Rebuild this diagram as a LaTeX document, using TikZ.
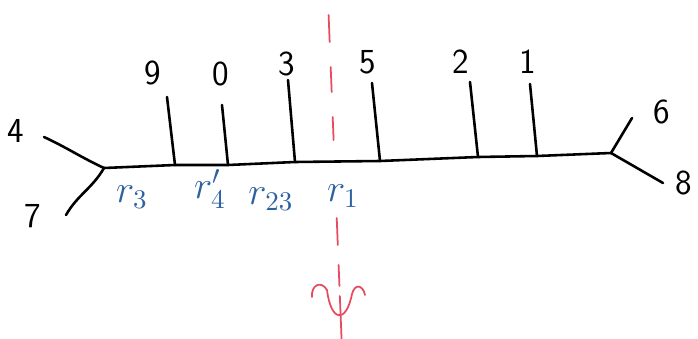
\documentclass[tikz,border=0pt]{standalone}
\usepackage{amsmath,amssymb}
\usepackage{tikz}
\usetikzlibrary{arrows.meta}
\usepackage{xcolor}
\definecolor{penblue}{RGB}{45, 98, 160}
\definecolor{penred}{RGB}{230, 75, 95}

\begin{document}
\begin{tikzpicture}[x=0.03cm, y=-0.03cm, >=Latex,
    branch/.style={line width=2.2pt, line cap=round},
    leaf/.style={font=\fontsize{30}{32}\selectfont\sffamily},
    cut/.style={font=\Large, scale=2.3, text=penblue, inner sep=0pt},
    axis/.style={penred, line width=1.5pt, line cap=round}]
    \useasboundingbox (0,0) rectangle (698,339);
    % junctions and attachment points on the backbone
    \coordinate (jl) at (104,168);
    \coordinate (jr) at (611,153);
    \coordinate (a9) at (175,165);
    \coordinate (a0) at (228,165);
    \coordinate (a3) at (295,162);
    \coordinate (a5) at (380,161);
    \coordinate (a2) at (478,157);
    \coordinate (a1) at (537,156);
    % free ends of the pendant edges
    \coordinate (t4) at (44,137);
    \coordinate (t7) at (66,215);
    \coordinate (t9) at (167,97);
    \coordinate (t0) at (222,105);
    \coordinate (t3) at (288,80);
    \coordinate (t5) at (372,83);
    \coordinate (t2) at (470,82);
    \coordinate (t1) at (530,84);
    \coordinate (t6) at (632,118);
    \coordinate (t8) at (663,183);
    % leaf labels
    \node[leaf] (l4) at (16,131) {4};
    \node[leaf] (l7) at (33,216) {7};
    \node[leaf] (l9) at (153,73) {9};
    \node[leaf] (l0) at (221,74) {0};
    \node[leaf] (l3) at (287,64) {3};
    \node[leaf] (l5) at (368,62) {5};
    \node[leaf] (l2) at (461,62) {2};
    \node[leaf] (l1) at (528,62) {1};
    \node[leaf] (l6) at (662,112) {6};
    \node[leaf] (l8) at (684,183) {8};
    % tree
    \draw[branch] (jl) -- (a9) -- (a0) -- (a3) -- (a5) -- (a2) -- (a1) -- (jr);
    \draw[branch] (t4) to[out=-25, in=155] (jl);
    \draw[branch] (t7) to[out=60, in=240] (jl);
    \foreach \k in {9,0,3,5,2,1}
      \draw[branch] (t\k) -- (a\k);
    \draw[branch] (t6) -- (jr);
    \draw[branch] (t8) -- (jr);
    % cut labels
    \node[cut] (r3) at (132,197) {$r_3$};
    \node[cut] (r4) at (210,189) {$r_4'$};
    \node[cut] (r23) at (271,199) {$r_{23}$};
    \node[cut] (r1) at (343,196) {$r_1$};
    % rotation axis
    \foreach \ya/\yb in {15/42, 67/92, 117/140, 218/245, 265/286, 296/339}
      \draw[axis] ({328+\ya*0.04},\ya) -- ({328+\yb*0.04},\yb);
    \draw[axis] (312,297) .. controls (311,285) and (321,280) .. (327,290)
      .. controls (331,322) and (346,324) .. (352,294)
      .. controls (355,283) and (363,285) .. (365,295);
  \end{tikzpicture}
\end{document}
